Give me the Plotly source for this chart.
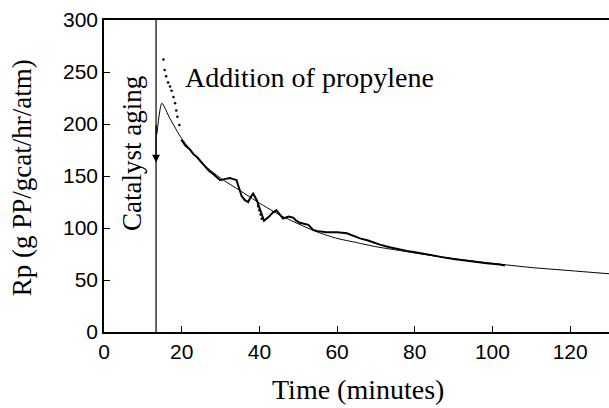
import plotly.graph_objects as go

# Fitted model curve
fit_t = [13.6, 14.9, 17, 20, 25, 30, 35, 40, 45, 50, 55, 60, 65, 70, 75, 80, 90, 100, 110, 120, 130]
fit_rp = [190, 220, 205, 186, 163, 148, 136, 124, 113, 104, 96, 90, 86, 82, 79, 76, 70.5, 66, 62, 59, 56]

# Measured data (continuous part)
data_t = [19.9, 20.5, 21, 22, 23, 24, 24.7, 26, 27, 28.1, 29, 29.9, 31, 32.4, 33.3, 34.1, 34.8,
          35.4, 36.2, 37.1, 37.8, 38.4, 39.3, 41.2, 42.5, 43.5, 44.4, 45.3, 46.1, 47.5, 48.7,
          49.5, 50.4, 51.5, 52.6, 53.9, 55, 57.3, 60, 62.5, 64, 65.9, 68, 71, 73.5, 76.2, 78,
          80.5, 82.5, 84.8, 87, 90, 93.4, 96, 98.5, 101.9, 103.2]
data_rp = [185, 181, 179, 176, 171, 168, 165, 159, 155, 152, 149, 146, 147, 148, 147, 146, 138,
           131, 127, 125, 130, 133, 127, 107, 111, 115, 117, 113, 109, 111, 110,
           107, 105, 104, 103, 98, 97, 96, 96, 95, 93, 90, 88, 84, 81.5, 79, 78,
           76.5, 75, 73.7, 72, 70.3, 68.3, 67, 66, 64.8, 64]

# Sparse measured points
dot_t = [15.3, 15.6, 16.0, 16.5, 17.0, 17.4, 17.9, 18.3, 18.6, 18.9, 19.4, 39.7, 40.0, 40.3, 40.6]
dot_rp = [262, 252, 246, 240, 236, 232, 226, 220, 213, 207, 199, 121, 117, 113, 109]

aging_t = 13.4

fig = go.Figure()
fig.add_trace(go.Scatter(x=fit_t, y=fit_rp, mode="lines", line=dict(color="black", width=1, shape="spline", smoothing=0.6), showlegend=False))
fig.add_trace(go.Scatter(x=data_t, y=data_rp, mode="lines", line=dict(color="black", width=2), showlegend=False))
fig.add_trace(go.Scatter(x=dot_t, y=dot_rp, mode="markers", marker=dict(color="black", size=2.5), showlegend=False))

fig.add_shape(type="line", x0=aging_t, x1=aging_t, y0=0, y1=300, xref="x", yref="y", line=dict(color="black", width=1.2))
fig.add_annotation(x=aging_t, y=163, ax=aging_t, ay=200, xref="x", yref="y", axref="x", ayref="y",
                   showarrow=True, arrowhead=2, arrowsize=1.3, arrowwidth=1.2, arrowcolor="black", text="")

serif = "Liberation Serif, Times New Roman, serif"
fig.add_annotation(x=7.2, y=172, xref="x", yref="y", text="Catalyst aging", textangle=-90, showarrow=False,
                   font=dict(family=serif, size=27, color="black"), xanchor="center", yanchor="middle")
fig.add_annotation(x=20.3, y=245, xref="x", yref="y", text="Addition of propylene", showarrow=False,
                   font=dict(family=serif, size=28, color="black"), xanchor="left", yanchor="middle")
fig.add_annotation(x=-0.163, y=0.495, xref="paper", yref="paper", text="Rp (g PP/gcat/hr/atm)", textangle=-90,
                   showarrow=False, font=dict(family=serif, size=27, color="black"), xanchor="center", yanchor="middle")
fig.add_annotation(x=0.502, y=-0.185, xref="paper", yref="paper", text="Time (minutes)",
                   showarrow=False, font=dict(family=serif, size=28, color="black"), xanchor="center", yanchor="middle")

fig.update_xaxes(range=[0, 130], tickvals=[0, 20, 40, 60, 80, 100, 120], ticks="inside", ticklen=6,
                 tickcolor="black", showline=True, linecolor="black", linewidth=1.5, mirror=True,
                 showgrid=False, zeroline=False, tickfont=dict(family="Liberation Sans, Arial", size=21, color="black"))
fig.update_yaxes(range=[0, 300], tickvals=[0, 50, 100, 150, 200, 250, 300], ticks="inside", ticklen=6,
                 tickcolor="black", showline=True, linecolor="black", linewidth=1.5, mirror=False,
                 showgrid=False, zeroline=False, tickfont=dict(family="Liberation Sans, Arial", size=21, color="black"))

fig.update_layout(width=609, height=408, margin=dict(l=104, r=0, t=20, b=76),
                  plot_bgcolor="white", paper_bgcolor="white")

fig.write_html("out.html")
